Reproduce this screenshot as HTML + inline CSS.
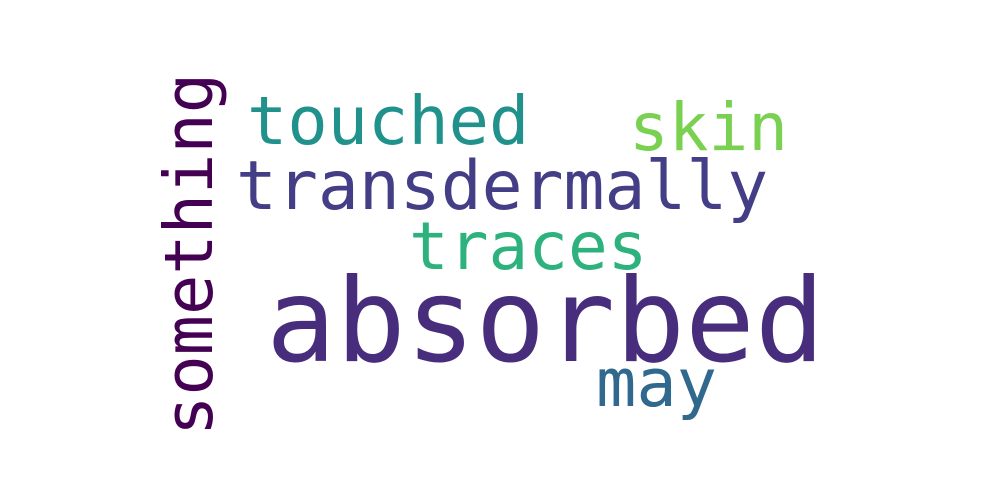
<!DOCTYPE html>
<html><head><meta charset="utf-8"><style>
html,body{margin:0;padding:0;background:#fff;}
svg{display:block;}
text{font-family:"DejaVu Sans Mono","Liberation Mono",monospace;}
</style></head><body>
<svg width="1000" height="500" viewBox="0 0 1000 500">
<rect width="1000" height="500" fill="#ffffff"/>
<text x="266" y="361" font-size="116" fill="#472d7b">absorbed</text>
<text x="236" y="209" font-size="68" fill="#433e85">transdermally</text>
<text x="247" y="144" font-size="67" fill="#21918c">touched</text>
<text x="629" y="150" font-size="66" fill="#7ad151">skin</text>
<text x="409" y="269" font-size="66" fill="#2db27d">traces</text>
<text x="596" y="406" font-size="67" fill="#31688e">may</text>
<text transform="translate(212,436) rotate(-90)" x="0" y="0" font-size="67" fill="#440154">something</text>
</svg>
</body></html>
